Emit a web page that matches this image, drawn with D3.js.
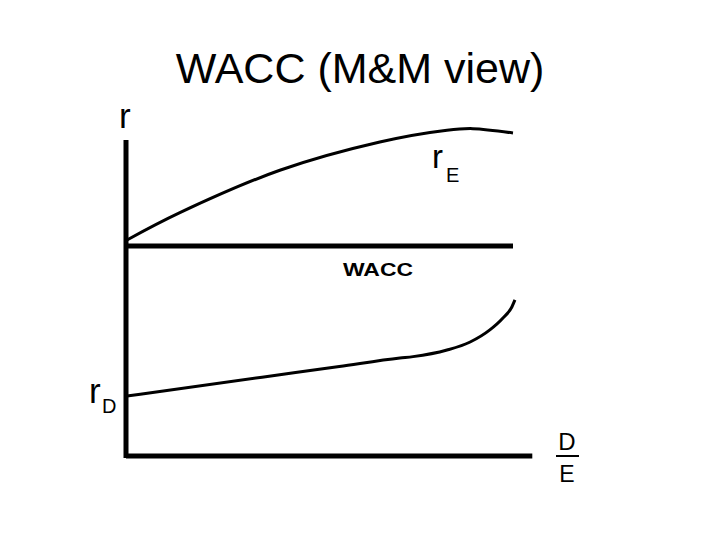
<!DOCTYPE html>
<html>
<head>
<meta charset="utf-8">
<script src="https://cdn.jsdelivr.net/npm/d3@7"></script>
<style>
  html, body { margin: 0; padding: 0; background: #fff; }
  svg { display: block; }
  text { font-family: "Liberation Sans", Arial, sans-serif; fill: #000; }
</style>
</head>
<body>
<svg id="chart" width="720" height="540"></svg>
<script>
// ---- data (D/E on x, r in % on y) ----
const rE_de   = [0, 0.137, 0.396, 0.655, 0.829, 0.896, 1.0];
const rE_vals = [13.76, 15.5, 18.2, 20.0, 20.75, 20.85, 20.57];

const wacc_de   = [0, 1.0];
const wacc_vals = [13.38, 13.38];

const rD_de   = [0, 0.35, 0.55, 0.707, 0.741, 0.829, 0.889, 0.940, 0.974, 0.997, 1.005];
const rD_vals = [3.82, 5.02, 5.70, 6.24, 6.33, 6.75, 7.26, 8.03, 8.79, 9.49, 9.94];

const titleText = "WACC (M&M view)";

// ---- scales ----
const svg = d3.select("#chart");
const x = d3.scaleLinear().domain([0, 1]).range([127, 513]);
const y = d3.scaleLinear().domain([0, 20]).range([456, 142]);

// ---- axes (plain lines, no ticks) ----
svg.append("line")
  .attr("x1", x(0) - 1).attr("x2", x(0) - 1)
  .attr("y1", y(20.13)).attr("y2", y(0) + 2)
  .attr("stroke", "#000").attr("stroke-width", 5);
svg.append("line")
  .attr("x1", x(0) - 1).attr("x2", x(1.05))
  .attr("y1", y(0)).attr("y2", y(0))
  .attr("stroke", "#000").attr("stroke-width", 5);

// ---- lines ----
const lineE = d3.line().x(d => x(d[0])).y(d => y(d[1])).curve(d3.curveCatmullRom.alpha(0.5));
const lineD = d3.line().x(d => x(d[0])).y(d => y(d[1])).curve(d3.curveMonotoneX);

svg.append("path")
  .datum(d3.zip(wacc_de, wacc_vals))
  .attr("d", d3.line().x(d => x(d[0])).y(d => y(d[1])))
  .attr("fill", "none").attr("stroke", "#000").attr("stroke-width", 5);

svg.append("path")
  .datum(d3.zip(rE_de, rE_vals))
  .attr("d", lineE)
  .attr("fill", "none").attr("stroke", "#000").attr("stroke-width", 3);

svg.append("path")
  .datum(d3.zip(rD_de, rD_vals))
  .attr("d", lineD)
  .attr("fill", "none").attr("stroke", "#000").attr("stroke-width", 3);

// ---- text ----
svg.append("text")
  .attr("x", 360).attr("y", 83)
  .attr("text-anchor", "middle")
  .style("font-size", "43px")
  .text(titleText);

svg.append("text")
  .attr("x", 119).attr("y", 128)
  .style("font-size", "35px")
  .text("r");

const rEt = svg.append("text").attr("x", 432).attr("y", 168).style("font-size", "33px");
rEt.append("tspan").text("r");
rEt.append("tspan").attr("x", 446).attr("y", 182).style("font-size", "20px").text("E");

svg.append("text")
  .attr("x", 343).attr("y", 276)
  .attr("textLength", 70).attr("lengthAdjust", "spacingAndGlyphs")
  .style("font-size", "19px").style("font-weight", "bold")
  .text("WACC");

const rDt = svg.append("text").attr("x", 89).attr("y", 403).style("font-size", "35px");
rDt.append("tspan").text("r");
rDt.append("tspan").attr("x", 102).attr("y", 413).style("font-size", "20px").text("D");

svg.append("text")
  .attr("x", 567).attr("y", 450)
  .attr("text-anchor", "middle")
  .style("font-size", "24px")
  .text("D");
svg.append("line")
  .attr("x1", 556).attr("x2", 579).attr("y1", 456).attr("y2", 456)
  .attr("stroke", "#000").attr("stroke-width", 2);
svg.append("text")
  .attr("x", 567).attr("y", 482)
  .attr("text-anchor", "middle")
  .style("font-size", "23px")
  .text("E");
</script>
</body>
</html>
